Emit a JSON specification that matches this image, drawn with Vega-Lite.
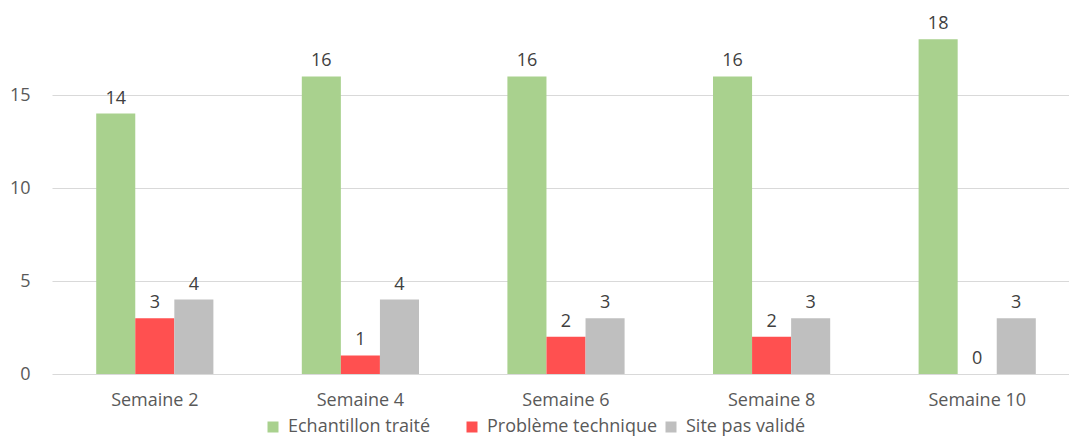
{
  "$schema": "https://vega.github.io/schema/vega-lite/v6.json",
  "width": 1028,
  "height": 372,
  "autosize": {"type": "none"},
  "padding": {"left": 52, "top": 2, "right": 0, "bottom": 62},
  "background": "white",
  "config": {
    "view": {"stroke": null},
    "font": "Open Sans",
    "axis": {"labelFont": "Open Sans", "labelColor": "#595959", "labelFontSize": 18}
  },
  "data": {
    "values": [
      {"semaine": "Semaine 2", "serie": "Echantillon traité", "valeur": 14},
      {"semaine": "Semaine 2", "serie": "Problème technique", "valeur": 3},
      {"semaine": "Semaine 2", "serie": "Site pas validé", "valeur": 4},
      {"semaine": "Semaine 4", "serie": "Echantillon traité", "valeur": 16},
      {"semaine": "Semaine 4", "serie": "Problème technique", "valeur": 1},
      {"semaine": "Semaine 4", "serie": "Site pas validé", "valeur": 4},
      {"semaine": "Semaine 6", "serie": "Echantillon traité", "valeur": 16},
      {"semaine": "Semaine 6", "serie": "Problème technique", "valeur": 2},
      {"semaine": "Semaine 6", "serie": "Site pas validé", "valeur": 3},
      {"semaine": "Semaine 8", "serie": "Echantillon traité", "valeur": 16},
      {"semaine": "Semaine 8", "serie": "Problème technique", "valeur": 2},
      {"semaine": "Semaine 8", "serie": "Site pas validé", "valeur": 3},
      {"semaine": "Semaine 10", "serie": "Echantillon traité", "valeur": 18},
      {"semaine": "Semaine 10", "serie": "Problème technique", "valeur": 0},
      {"semaine": "Semaine 10", "serie": "Site pas validé", "valeur": 3}
    ]
  },
  "encoding": {
    "x": {
      "field": "semaine", "type": "nominal", "sort": null,
      "scale": {"paddingInner": 0.43, "paddingOuter": 0.215},
      "axis": {"title": null, "labelAngle": 0, "ticks": false, "domain": false, "labelPadding": 17}
    },
    "xOffset": {"field": "serie", "type": "nominal", "sort": null},
    "y": {
      "field": "valeur", "type": "quantitative",
      "scale": {"domain": [0, 20], "nice": false},
      "axis": {"title": null, "values": [0, 5, 10, 15], "ticks": false, "domain": false,
               "gridColor": "#d9d9d9", "gridWidth": 1, "labelPadding": 22}
    }
  },
  "layer": [
    {
      "mark": {"type": "bar"},
      "encoding": {
        "color": {
          "field": "serie", "type": "nominal", "sort": null,
          "scale": {"domain": ["Echantillon traité", "Problème technique", "Site pas validé"],
                    "range": ["#a9d18e", "#ff5050", "#bfbfbf"]},
          "legend": {
            "title": null, "orient": "none", "legendX": 212, "legendY": 416,
            "direction": "horizontal", "columns": 3, "gridAlign": "all", "columnPadding": 4,
            "symbolType": "square", "symbolSize": 121, "symbolStrokeWidth": 0,
            "labelFontSize": 18, "labelColor": "#595959", "labelFont": "Open Sans",
            "labelOffset": 6, "labelLimit": 300
          }
        }
      }
    },
    {
      "mark": {"type": "text", "baseline": "bottom", "dy": -6, "fontSize": 18, "color": "#404040", "font": "Open Sans"},
      "encoding": {"text": {"field": "valeur", "type": "quantitative"}}
    }
  ]
}
